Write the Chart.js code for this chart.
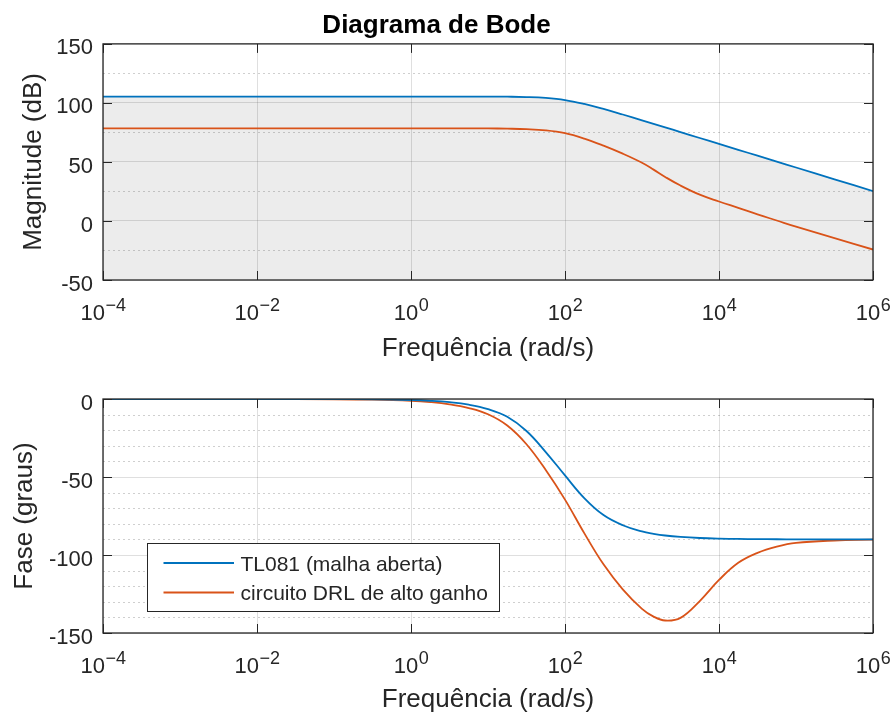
<!DOCTYPE html>
<html><head><meta charset="utf-8">
<script src="https://cdn.jsdelivr.net/npm/chart.js@4.4.0/dist/chart.umd.min.js"></script>
<style>
html,body{margin:0;padding:0;background:#fff;}
#wrap{position:relative;width:892px;height:718px;overflow:hidden;}
canvas{position:absolute;left:0;}
</style></head><body>
<div id="wrap">
<canvas id="mag" width="892" height="364" style="top:0"></canvas>
<canvas id="fase" width="892" height="354" style="top:364px"></canvas>
</div>
<script>
// ---- data ----
const frequencias = [0.0001, 0.001, 0.01, 0.1, 0.3162, 1, 1.778, 3.162, 5.623, 10, 17.78, 31.62, 56.23, 100, 177.8, 316.2, 562.3, 1000, 1413, 2000, 3162, 5623, 10000, 17783, 31623, 56234, 100000, 316228, 1000000];
const magTL081 = [105.4,105.4,105.4,105.4,105.4,105.4,105.4,105.4,105.4,105.36,105.26,104.98,104.2,102.4,99.1,94.9,90.2,85.3,82.3,79.3,75.3,70.3,65.3,60.3,55.3,50.3,45.3,35.3,25.3];
const magDRL = [78.5,78.5,78.5,78.5,78.5,78.5,78.5,78.5,78.47,78.4,78.2,77.8,76.8,74.4,69.8,63.8,57.0,49.3,43.5,37.3,30.0,22.3,16.5,11.1,5.6,0.4,-4.8,-14.6,-24.2];
const faseTL081 = [0,-0.01,-0.01,-0.07,-0.2,-0.65,-1.15,-2.05,-3.65,-6.5,-11.4,-20.5,-34,-49,-63.5,-74.4,-80.9,-84.9,-86.4,-87.5,-88.4,-89.1,-89.5,-89.72,-89.84,-89.91,-89.95,-89.98,-90];
const faseDRL = [0,-0.01,-0.02,-0.15,-0.45,-1.2,-2.0,-3.4,-5.8,-9.8,-17,-29,-45.5,-64.5,-86,-106,-122,-134.5,-139.5,-142,-140.3,-129.5,-116,-105,-98.6,-94.6,-92.2,-90.7,-90.2];
const nomesSeries = ['TL081 (malha aberta)', 'circuito DRL de alto ganho'];
const xTicks = [1e-4, 1e-2, 1, 1e2, 1e4, 1e6];
const xExpoentes = ['\u22124', '\u22122', '0', '2', '4', '6'];
const magMinor = [125, 75, 25, -25];
const faseMinor = [-10, -20, -30, -40, -60, -70, -80, -90, -110, -120, -130, -140];

// ---- styling ----
const FONT = "'Liberation Sans', Arial, Helvetica, sans-serif";
const INK = '#262626';
const AZUL = '#0072BD';
const LARANJA = '#D95319';
const GRID = 'rgba(38,38,38,0.15)';

const pts = (ys) => frequencias.map((f, i) => ({x: f, y: ys[i]}));

const axesPlugin = {
  id: 'axesPlugin',
  beforeDatasetsDraw(chart, args, opts) {
    const {ctx, chartArea: a} = chart;
    const ys = chart.scales.y;
    ctx.save();
    ctx.strokeStyle = 'rgba(38,38,38,0.22)';
    ctx.lineWidth = 1;
    ctx.setLineDash([2, 3]);
    for (const v of opts.minor) {
      const py = Math.round(ys.getPixelForValue(v)) + 0.5;
      ctx.beginPath(); ctx.moveTo(a.left, py); ctx.lineTo(a.right, py); ctx.stroke();
    }
    ctx.restore();
  },
  afterDraw(chart, args, opts) {
    const {ctx, chartArea: a} = chart;
    const xs = chart.scales.x, ys = chart.scales.y;
    ctx.save();
    // x tick labels 10^n
    ctx.fillStyle = INK;
    ctx.textBaseline = 'alphabetic';
    ctx.textAlign = 'left';
    xTicks.forEach((v, i) => {
      const px = xs.getPixelForValue(v);
      ctx.font = `22px ${FONT}`;
      const wb = ctx.measureText('10').width;
      ctx.font = `18px ${FONT}`;
      const we = ctx.measureText(xExpoentes[i]).width;
      const x0 = px - (wb + we) / 2;
      const base = a.bottom + 40;
      ctx.font = `22px ${FONT}`;
      ctx.fillText('10', x0, base);
      ctx.font = `18px ${FONT}`;
      ctx.fillText(xExpoentes[i], x0 + wb + 0.5, base - 9.5);
    });
    // inward ticks
    ctx.strokeStyle = INK;
    ctx.lineWidth = 1;
    const tl = 9;
    xTicks.forEach(v => {
      const px = Math.round(xs.getPixelForValue(v)) + 0.5;
      ctx.beginPath();
      ctx.moveTo(px, a.bottom); ctx.lineTo(px, a.bottom - tl);
      ctx.moveTo(px, a.top); ctx.lineTo(px, a.top + tl);
      ctx.stroke();
    });
    ys.ticks.forEach(t => {
      const py = Math.round(ys.getPixelForValue(t.value)) + 0.5;
      ctx.beginPath();
      ctx.moveTo(a.left, py); ctx.lineTo(a.left + tl, py);
      ctx.moveTo(a.right, py); ctx.lineTo(a.right - tl, py);
      ctx.stroke();
    });
    // legend
    if (opts.legend) {
      const lx = Math.round(a.left + 44) + 0.5, ly = Math.round(a.top + 143.5) + 0.5;
      const lw = 352, lh = 68;
      ctx.fillStyle = '#fff';
      ctx.fillRect(lx, ly, lw, lh);
      ctx.strokeStyle = INK; ctx.lineWidth = 1;
      ctx.strokeRect(lx, ly, lw, lh);
      chart.data.datasets.forEach((ds, i) => {
        const ry = ly + 19.5 + 29.5 * i;
        ctx.strokeStyle = ds.borderColor; ctx.lineWidth = 1.8;
        ctx.beginPath(); ctx.moveTo(lx + 16, ry); ctx.lineTo(lx + 86.5, ry); ctx.stroke();
        ctx.fillStyle = INK;
        ctx.font = `21px ${FONT}`;
        ctx.textBaseline = 'middle';
        ctx.fillText(ds.label, lx + 93, ry + 2);
      });
    }
    // box
    ctx.strokeStyle = INK; ctx.lineWidth = 1.3;
    ctx.strokeRect(a.left, a.top, a.right - a.left, a.bottom - a.top);
    ctx.restore();
  }
};

function makeChart(id, cfg) {
  return new Chart(document.getElementById(id), {
    type: 'line',
    data: {
      datasets: [
        {label: nomesSeries[0], data: pts(cfg.azul), borderColor: AZUL, borderWidth: 1.8,
         pointRadius: 0, tension: 0.4,
         fill: cfg.fill ? 'start' : false, backgroundColor: 'rgba(0,0,0,0.075)'},
        {label: nomesSeries[1], data: pts(cfg.laranja), borderColor: LARANJA, borderWidth: 1.8,
         pointRadius: 0, tension: 0.4, fill: false}
      ]
    },
    options: {
      responsive: false,
      devicePixelRatio: 1,
      animation: false,
      events: [],
      layout: {padding: {left: 0, right: 19, top: cfg.padTop, bottom: 0}},
      plugins: {
        legend: {display: false},
        tooltip: {enabled: false},
        filler: {drawTime: 'beforeDatasetsDraw'},
        title: cfg.title ? {display: true, text: cfg.title, color: '#000',
          font: {family: FONT, size: 26, weight: 'bold', lineHeight: 1.15},
          padding: {top: 11, bottom: 3}} : {display: false},
        axesPlugin: {minor: cfg.minor, legend: cfg.legend}
      },
      scales: {
        x: {
          type: 'logarithmic', min: 1e-4, max: 1e6,
          afterBuildTicks: (s) => { s.ticks = xTicks.map(v => ({value: v})); },
          afterFit: (s) => { s.height = cfg.xHeight; },
          ticks: {display: false},
          grid: {color: GRID, drawTicks: false, lineWidth: 1},
          border: {display: false},
          title: {display: true, text: 'Frequência (rad/s)', color: INK,
            font: {family: FONT, size: 26, lineHeight: 1.2}, padding: {top: 0, bottom: cfg.xTitlePad}}
        },
        y: {
          min: cfg.yMin, max: cfg.yMax,
          afterFit: (s) => { s.width = 103; },
          ticks: {stepSize: 50, color: INK, padding: 10, labelOffset: 4.5, font: {family: FONT, size: 22}},
          grid: {color: GRID, drawTicks: false, lineWidth: 1},
          border: {display: false},
          title: {display: true, text: cfg.yTitle, color: INK,
            font: {family: FONT, size: 26, lineHeight: 1.2}, padding: {top: cfg.yTitlePad, bottom: 0}}
        }
      }
    },
    plugins: [axesPlugin]
  });
}

makeChart('mag', {
  azul: magTL081, laranja: magDRL, fill: true, title: 'Diagrama de Bode',
  padTop: 0, xHeight: 84, xTitlePad: 0, yMin: -50, yMax: 150,
  yTitle: 'Magnitude (dB)', yTitlePad: 18, minor: magMinor, legend: false
});
makeChart('fase', {
  azul: faseTL081, laranja: faseDRL, fill: false, title: null,
  padTop: 35, xHeight: 85, xTitlePad: 2.5, yMin: -150, yMax: 0,
  yTitle: 'Fase (graus)', yTitlePad: 9, minor: faseMinor, legend: true
});
</script>
</body></html>
